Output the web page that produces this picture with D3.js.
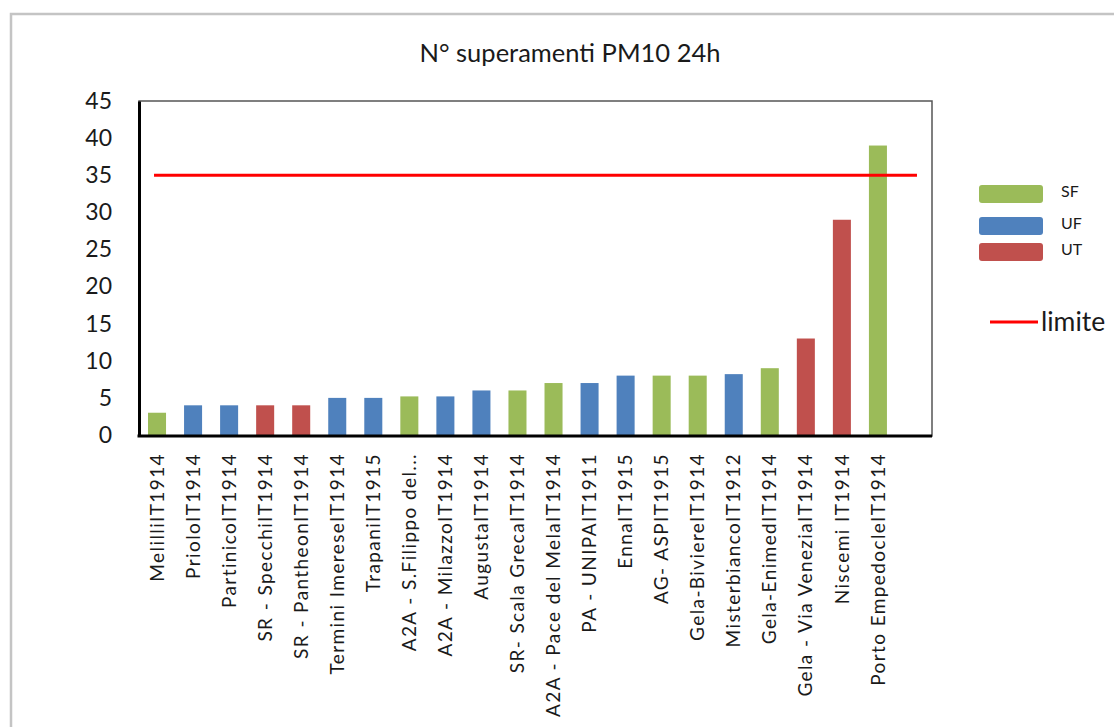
<!DOCTYPE html>
<html>
<head>
<meta charset="utf-8">
<script src="https://cdn.jsdelivr.net/npm/d3@7"></script>
<style>
  body { margin: 0; background: #fff; }
  text { font-family: Lato, "Open Sans", sans-serif; fill: #1a1a1a; }
</style>
</head>
<body>
<svg id="chart" width="1114" height="727"></svg>
<script>
const categories = [
  "MelilliIT1914", "PrioloIT1914", "PartinicoIT1914", "SR - SpecchiIT1914",
  "SR - PantheonIT1914", "Termini ImereseIT1914", "TrapaniIT1915", "A2A - S.Filippo del...",
  "A2A - MilazzoIT1914", "AugustaIT1914", "SR- Scala GrecaIT1914", "A2A - Pace del MelaIT1914",
  "PA - UNIPAIT1911", "EnnaIT1915", "AG- ASPIT1915", "Gela-BiviereIT1914",
  "MisterbiancoIT1912", "Gela-EnimedIT1914", "Gela - Via VeneziaIT1914", "Niscemi IT1914",
  "Porto EmpedocleIT1914"
];
const values = [3, 4, 4, 4, 4, 5, 5, 5.2, 5.2, 6, 6, 7, 7, 8, 8, 8, 8.2, 9, 13, 29, 39];
const types = ["SF", "UF", "UF", "UT", "UT", "UF", "UF", "SF", "UF", "UF", "SF", "SF",
  "UF", "UF", "SF", "SF", "UF", "SF", "UT", "UT", "SF"];
const legendKeys = ["SF", "UF", "UT"];
const yTicks = [0, 5, 10, 15, 20, 25, 30, 35, 40, 45];
const limite = 35;

const svg = d3.select("#chart");
const plotLeft = 139, plotRight = 932, plotTop = 101, plotBottom = 435;
// the category axis has one empty slot at the end (limit line reaches into it)
const step = (plotRight - plotLeft) / 22;

const colors = d3.scaleOrdinal().domain(legendKeys).range(["#9bbb59", "#4f81bd", "#c0504d"]);

const x = d3.scaleBand()
  .domain(categories)
  .range([plotLeft, plotLeft + step * categories.length])
  .paddingInner(0.5)
  .paddingOuter(0.25);

const y = d3.scaleLinear().domain([0, 45]).range([plotBottom, plotTop]);

// outer chart frame
svg.append("rect")
  .attr("x", 11).attr("y", 14)
  .attr("width", 1130).attr("height", 740)
  .attr("fill", "#fff")
  .attr("stroke", "#c4c4c4")
  .attr("stroke-width", 2.5);

svg.append("text")
  .attr("x", 570).attr("y", 62)
  .attr("text-anchor", "middle")
  .style("font-size", "25.5px")
  .text("N° superamenti PM10 24h");

// plot area border (top / right)
svg.append("rect")
  .attr("x", plotLeft).attr("y", plotTop)
  .attr("width", plotRight - plotLeft).attr("height", plotBottom - plotTop + 1)
  .attr("fill", "none")
  .attr("stroke", "#555")
  .attr("stroke-width", 1.5);

svg.append("g")
  .selectAll("rect")
  .data(categories)
  .enter().append("rect")
  .attr("x", d => x(d))
  .attr("width", x.bandwidth())
  .attr("y", (d, i) => y(values[i]))
  .attr("height", (d, i) => y(0) - y(values[i]))
  .attr("fill", (d, i) => colors(types[i]));

// limit line
const x0 = x(categories[0]) + x.bandwidth() / 2;
svg.append("line")
  .attr("x1", x0 - 3)
  .attr("x2", x0 + step * categories.length + 3)
  .attr("y1", y(limite)).attr("y2", y(limite))
  .attr("stroke", "#ff0000")
  .attr("stroke-width", 3);

// y axis
const yAxis = svg.append("g")
  .attr("transform", "translate(" + plotLeft + ",0)")
  .call(d3.axisLeft(y).tickValues(yTicks).tickSize(0).tickPadding(27));
yAxis.select(".domain").attr("stroke", "#000").attr("stroke-width", 3);
yAxis.selectAll("text").style("font-size", "23px").attr("fill", "#1a1a1a");

// x axis
const xAxis = svg.append("g")
  .attr("transform", "translate(0," + (plotBottom + 1) + ")")
  .call(d3.axisBottom(x).tickSize(0).tickSizeOuter(0));
xAxis.select(".domain")
  .attr("d", "M" + (plotLeft - 1.5) + ",0H" + plotRight)
  .attr("stroke", "#000").attr("stroke-width", 3);
xAxis.selectAll("text")
  .attr("transform", "rotate(-90)")
  .attr("x", -17).attr("y", 0).attr("dy", "0.35em")
  .attr("text-anchor", "end")
  .style("font-size", "19px")
  .style("letter-spacing", "1.4px")
  .attr("fill", "#1a1a1a");

// legend
const legend = svg.append("g").attr("class", "legend");
const legendY = [194, 226, 252];
legend.selectAll("rect")
  .data(legendKeys)
  .enter().append("rect")
  .attr("x", 979).attr("width", 64)
  .attr("y", (d, i) => legendY[i] - 9)
  .attr("height", 18)
  .attr("rx", 3)
  .attr("fill", d => colors(d));
legend.selectAll("text")
  .data(legendKeys)
  .enter().append("text")
  .attr("x", 1061)
  .attr("y", (d, i) => legendY[i] - 3)
  .attr("dy", "0.35em")
  .style("font-size", "16px")
  .text(d => d);

legend.append("line")
  .attr("x1", 990).attr("x2", 1038)
  .attr("y1", 322).attr("y2", 322)
  .attr("stroke", "#ff0000").attr("stroke-width", 3);
legend.append("text")
  .attr("x", 1041).attr("y", 322).attr("dy", "0.35em")
  .style("font-size", "26.5px")
  .text("limite");
</script>
</body>
</html>
